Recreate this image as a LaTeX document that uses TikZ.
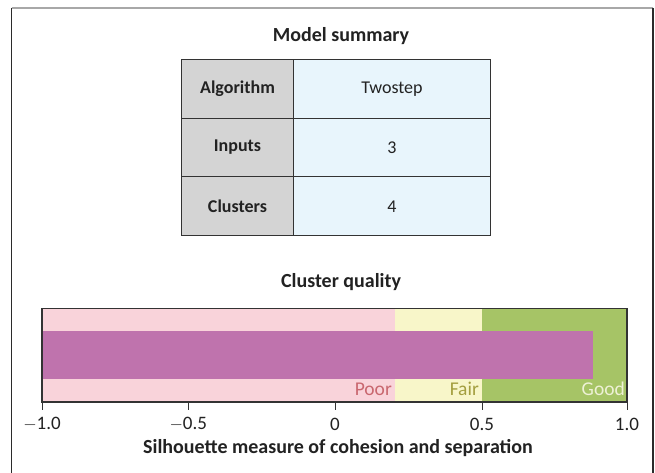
\documentclass[tikz,border=0pt]{standalone}
\usepackage{fontspec}
\setmainfont{Carlito}
\definecolor{frameC}{HTML}{2B2B2B}
\definecolor{topC}{HTML}{A8A8A8}
\definecolor{headC}{HTML}{D4D4D4}
\definecolor{valC}{HTML}{E8F5FC}
\definecolor{gridC}{HTML}{333333}
\definecolor{poorC}{HTML}{F9D3DA}
\definecolor{fairC}{HTML}{F8F6C9}
\definecolor{goodC}{HTML}{A6C466}
\definecolor{barC}{HTML}{BF73AD}
\definecolor{poorT}{HTML}{C9676F}
\definecolor{fairT}{HTML}{A39E3E}
\definecolor{goodT}{HTML}{EEF1D6}
\definecolor{txtC}{HTML}{222222}
\begin{document}
\begin{tikzpicture}[x=1pt,y=-1pt,
  cell/.style={draw=gridC,line width=1pt,minimum height=58.7pt,inner sep=0pt,anchor=north west,text=txtC,font=\fontsize{18}{20}\selectfont},
  headcell/.style={cell,fill=headC,minimum width=112pt,font=\fontsize{18}{20}\selectfont\bfseries},
  valcell/.style={cell,fill=valC,minimum width=197pt},
  title/.style={font=\fontsize{20}{22}\selectfont\bfseries,text=txtC},
  ticklab/.style={font=\fontsize{19}{21}\selectfont,text=txtC},
  zonelab/.style={font=\fontsize{19.5}{21}\selectfont,anchor=base east,inner sep=0pt}]
\useasboundingbox (0,0) rectangle (655,473);
\fill[white] (0,0) rectangle (655,473);
% outer frame
\draw[topC,line width=1.2pt] (11.5,8) -- (653,8);
\draw[frameC,line width=1.2pt] (11.5,8) -- (11.5,473);
\draw[frameC,line width=1.2pt] (653,8) -- (653,473);
% table
\node[title] (mtitle) at (341,36) {Model summary};
\node[headcell] (h1) at (181,59) {Algorithm};
\node[valcell] (v1) at (293,59) {Twostep};
\node[headcell] (h2) at (181,117.7) {Inputs};
\node[valcell] (v2) at (293,117.7) {3};
\node[headcell] (h3) at (181,176.4) {Clusters};
\node[valcell] (v3) at (293,176.4) {4};
% chart
\node[title] (ctitle) at (341,282) {Cluster quality};
\fill[poorC] (42,308) rectangle (395,402);
\fill[fairC] (395,308) rectangle (482,402);
\fill[goodC] (482,308) rectangle (627,402);
\fill[barC] (42,331) rectangle (593,379);
\draw[gridC,line width=1pt] (42,308) -- (627,308);
\draw[gridC,line width=1.2pt] (42,308) -- (42,402) -- (627,402) -- (627,308);
\node[zonelab,text=poorT] (poor) at (392,395) {Poor};
\node[zonelab,text=fairT] (fair) at (479,395) {Fair};
\node[zonelab,text=goodT] (good) at (625,395) {Good};
\foreach \v/\x/\l in {m10/42/{$-$1.0}, m05/188.25/{$-$0.5}, z0/335/0, p05/482/0.5, p10/627/1.0} {
  \draw[gridC,line width=1pt] (\x,402) -- (\x,410);
  \node[ticklab] (t\v) at (\x,424) {\l};
}
\node[title] (xtitle) at (338,448) {Silhouette measure of cohesion and separation};
\end{tikzpicture}
\end{document}
